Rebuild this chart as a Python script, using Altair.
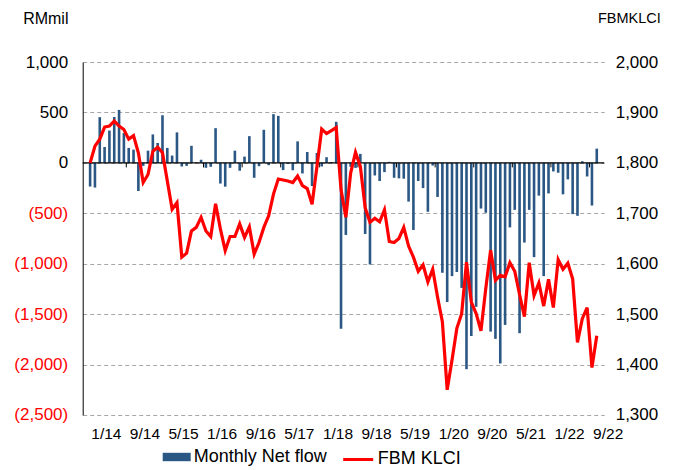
import altair as alt
import pandas as pd

# Monthly net foreign flow (RM mil), Jan 2014 .. Oct 2022
flow = [-235, -245, 453, 157, 320, 455, 525, 295, 148, 131,
        -279, -30, 121, 282, 197, 472, 148, 72, 302, -36,
        -30, 169, 5, 31, -49, -39, 344, -205, -236, -49,
        121, -78, 62, 265, -148, -33, 328, -23, 483, 466,
        -72, -10, -73, 213, -105, 108, -230, 98, -36, 56,
        8, 407, -1645, -715, -40, -50, 89, -705, -1007, -125,
        -180, -92, 10, -148, -154, -157, -384, -666, -180, -250,
        -485, -26, -338, -1090, -1380, -1123, -1082, -1240, -2046, -1717,
        -1427, -453, -495, -1673, -1745, -1989, -1607, -640, -466, -1689,
        -790, -466, -935, -325, -1123, -303, -85, -98, -312, -164,
        -508, -525, 16, -135, -423, 141]

# FBM KLCI index level
klci = [1800, 1833, 1847, 1871, 1873, 1883, 1873, 1866, 1847, 1854,
        1820, 1761, 1777, 1823, 1831, 1820, 1764, 1708, 1721, 1613,
        1621, 1665, 1672, 1692, 1665, 1654, 1719, 1669, 1626, 1654,
        1654, 1679, 1652, 1673, 1619, 1642, 1672, 1695, 1738, 1768,
        1766, 1764, 1761, 1774, 1755, 1749, 1718, 1792, 1867, 1858,
        1864, 1870, 1747, 1692, 1780, 1821, 1793, 1711, 1682, 1690,
        1683, 1707, 1644, 1642, 1650, 1672, 1635, 1613, 1585, 1598,
        1564, 1589, 1534, 1485, 1350, 1409, 1472, 1501, 1603, 1524,
        1501, 1467, 1551, 1627, 1567, 1577, 1574, 1602, 1585, 1539,
        1495, 1602, 1537, 1562, 1516, 1569, 1513, 1608, 1589, 1601,
        1570, 1444, 1491, 1513, 1394, 1457]

x_labels = ["1/14", "9/14", "5/15", "1/16", "9/16", "5/17", "1/18",
            "9/18", "5/19", "1/20", "9/20", "5/21", "1/22", "9/22"]
left_ticks = [1000, 500, 0, -500, -1000, -1500, -2000, -2500]
right_ticks = [2000, 1900, 1800, 1700, 1600, 1500, 1400, 1300]

n = len(flow)
df = pd.DataFrame({"m": list(range(n)), "flow": flow, "klci": klci})
bounds = pd.DataFrame({"b": [8 * k - 0.5 for k in range(1, 14)]})
zero_df = pd.DataFrame({"v": [0]})

W = 521.5
H = 353
step = W / n
FONT = "Liberation Sans"
BLUE = "#2A5783"
RED = "#FF0000"

xscale = alt.Scale(domain=[-0.5, n - 0.5], nice=False, zero=False)
yscale = alt.Scale(domain=[-2500, 1000], nice=False)
rscale = alt.Scale(domain=[1300, 2000], nice=False, zero=False)

label_js = "[" + ",".join("'" + s + "'" for s in x_labels) + "]"
xaxis = alt.Axis(values=list(range(0, n, 8)),
                 labelExpr=label_js + "[round(datum.value/8)]",
                 labelOffset=3.5 * step - 1.5, ticks=False, domain=False, grid=False,
                 title=None, labelFlush=False, labelOverlap=False,
                 labelFontSize=15.5, labelFont=FONT, labelColor="black",
                 labelPadding=12)

yaxis = alt.Axis(values=left_ticks,
                 labelExpr="datum.value < 0 ? '(' + format(-datum.value, ',') + ')' : format(datum.value, ',')",
                 labelColor={"condition": {"test": "datum.value < 0", "value": RED}, "value": "black"},
                 labelFontSize=17, labelFont=FONT, labelPadding=15,
                 grid=True, gridDash=[4, 3], gridColor="#A6A6A6", gridWidth=1,
                 domain=True, domainColor="black", domainWidth=1, ticks=False,
                 title="RMmil", titleAngle=0, titleAlign="left", titleBaseline="middle",
                 titleX=-60, titleY=-44, titleFontSize=16, titleFont=FONT,
                 titleFontWeight="normal", titleColor="black")

raxis = alt.Axis(values=right_ticks, labelExpr="format(datum.value, ',')", orient="right",
                 labelFontSize=17, labelFont=FONT, labelColor="black", labelPadding=11,
                 grid=False, domain=False, ticks=False,
                 title="FBMKLCI", titleAngle=0, titleAlign="right", titleBaseline="middle",
                 titleX=56, titleY=-44, titleFontSize=14.5, titleFont=FONT,
                 titleFontWeight="normal", titleColor="black")

bars = alt.Chart(df).transform_calculate(s1="'Monthly Net flow'").mark_bar(size=2.6).encode(
    x=alt.X("m:Q", scale=xscale, axis=xaxis),
    y=alt.Y("flow:Q", scale=yscale, axis=yaxis),
    fill=alt.Fill("s1:N", scale=alt.Scale(domain=["Monthly Net flow"], range=[BLUE]),
                  legend=alt.Legend(orient="none", legendX=80, legendY=381, title=None,
                                    symbolType="M-1,-0.3H1V0.3H-1Z", symbolSize=784,
                                    symbolStrokeWidth=0, labelFontSize=18, labelFont=FONT,
                                    labelColor="black", labelOffset=3, padding=0)),
)

zero = alt.Chart(zero_df).mark_rule(color="black", strokeWidth=1.3).encode(
    y=alt.Y("v:Q", scale=yscale, axis=yaxis)
)

tickmarks = alt.Chart(bounds).mark_rule(color="black", strokeWidth=1).encode(
    x=alt.X("b:Q", scale=xscale, axis=xaxis),
    y=alt.Y(datum=0, scale=yscale, axis=yaxis),
    y2=alt.Y2(datum=-45),
)

line = alt.Chart(df).transform_calculate(s2="'FBM KLCI'").mark_line(strokeWidth=3.2).encode(
    x=alt.X("m:Q", scale=xscale, axis=xaxis),
    y=alt.Y("klci:Q", scale=rscale, axis=raxis),
    stroke=alt.Stroke("s2:N", scale=alt.Scale(domain=["FBM KLCI"], range=[RED]),
                      legend=alt.Legend(orient="none", legendX=259, legendY=381, title=None,
                                        symbolType="stroke", symbolSize=900,
                                        symbolStrokeWidth=3, labelFontSize=18, labelFont=FONT,
                                        labelColor="black", labelOffset=3, padding=0)),
)

left = alt.layer(bars, zero, tickmarks)
chart = alt.layer(left, line).resolve_scale(y="independent", fill="independent", stroke="independent").properties(
    width=W, height=H, autosize="none",
    padding={"left": 74.7, "top": 54, "right": 60, "bottom": 54},
    background="white",
).configure_view(stroke=None)

chart.save("out.html", embed_options={"renderer": "svg", "actions": False})
